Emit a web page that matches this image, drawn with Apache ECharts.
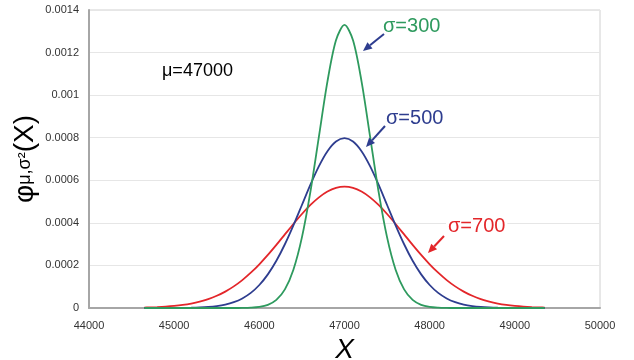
<!DOCTYPE html>
<html>
<head>
<meta charset="utf-8">
<script src="https://cdn.jsdelivr.net/npm/echarts@6/dist/echarts.min.js"></script>
<style>
	html, body { margin: 0; padding: 0; background: #fff; }
	#chart { width: 634px; height: 360px; }
</style>
</head>
<body>
<div id="chart"></div>
<script>
var xValues = [44650, 44700, 44800, 44900, 45000, 45100, 45200, 45300, 45400, 45500, 45600, 45700,
	45800, 45900, 46000, 46100, 46200, 46300, 46400, 46500, 46600, 46700, 46800, 46900, 47000,
	47100, 47200, 47300, 47400, 47500, 47600, 47700, 47800, 47900, 48000, 48100, 48200, 48300,
	48400, 48500, 48600, 48700, 48800, 48900, 49000, 49100, 49200, 49300, 49350];

var sigma300 = [0, 0, 0, 0, 0, 0, 0, 0, 0, 0, 0, 0,
	0.0000004, 0.0000016, 0.0000051, 0.0000148, 0.0000380, 0.0000874, 0.0001800, 0.0003316, 0.0005467, 0.0008066, 0.0010648, 0.0012579, 0.0013298,
	0.0012579, 0.0010648, 0.0008066, 0.0005467, 0.0003316, 0.0001800, 0.0000874, 0.0000380, 0.0000148, 0.0000051, 0.0000016, 0.0000004,
	0, 0, 0, 0, 0, 0, 0, 0, 0, 0, 0, 0];

var sigma500 = [0, 0, 0, 0.0000001, 0.0000003, 0.0000006, 0.0000012, 0.0000025, 0.0000048, 0.0000089, 0.0000158, 0.0000272,
	0.0000448, 0.0000709, 0.0001080, 0.0001579, 0.0002218, 0.0002995, 0.0003884, 0.0004839, 0.0005794, 0.0006664, 0.0007365, 0.0007821, 0.0007979,
	0.0007821, 0.0007365, 0.0006664, 0.0005794, 0.0004839, 0.0003884, 0.0002995, 0.0002218, 0.0001579, 0.0001080, 0.0000709, 0.0000448,
	0.0000272, 0.0000158, 0.0000089, 0.0000048, 0.0000025, 0.0000012, 0.0000006, 0.0000003, 0.0000001, 0, 0, 0];

var sigma700 = [0.0000020, 0.0000026, 0.0000041, 0.0000063, 0.0000096, 0.0000143, 0.0000209, 0.0000299, 0.0000418, 0.0000574, 0.0000771, 0.0001016,
	0.0001311, 0.0001658, 0.0002054, 0.0002494, 0.0002966, 0.0003457, 0.0003947, 0.0004416, 0.0004841, 0.0005199, 0.0005471, 0.0005641, 0.0005699,
	0.0005641, 0.0005471, 0.0005199, 0.0004841, 0.0004416, 0.0003947, 0.0003457, 0.0002966, 0.0002494, 0.0002054, 0.0001658, 0.0001311,
	0.0001016, 0.0000771, 0.0000574, 0.0000418, 0.0000299, 0.0000209, 0.0000143, 0.0000096, 0.0000063, 0.0000041, 0.0000026, 0.0000020];

var seriesNames = ['σ=300', 'σ=500', 'σ=700'];
var seriesColors = ['#2e9a5e', '#2e3d8f', '#e3262a'];

function pairs(ys) {
	var out = [];
	for (var i = 0; i < xValues.length; i++) {
		out.push([xValues[i], ys[i]]);
	}
	return out;
}

function arrow(x1, y1, x2, y2, color) {
	var ang = Math.atan2(y2 - y1, x2 - x1);
	var len = 9, wid = 4;
	var bx = x2 - len * Math.cos(ang), by = y2 - len * Math.sin(ang);
	var px = -Math.sin(ang) * wid, py = Math.cos(ang) * wid;
	return [
		{ type: 'line', z: 100, shape: { x1: x1, y1: y1, x2: bx, y2: by }, style: { stroke: color, lineWidth: 2 } },
		{ type: 'polygon', z: 100, shape: { points: [[x2, y2], [bx + px, by + py], [bx - px, by - py]] }, style: { fill: color } }
	];
}

var chart = echarts.init(document.getElementById('chart'));
var data = [sigma300, sigma500, sigma700];
var series = [];
for (var s = 0; s < data.length; s++) {
	series.push({
		name: seriesNames[s],
		type: 'line',
		smooth: 0.3,
		symbol: 'none',
		data: pairs(data[s]),
		lineStyle: { color: seriesColors[s], width: 1.8 },
		z: 3 - s
	});
}

var graphics = [
	{ type: 'text', z: 100, left: 162, top: 62, style: { text: 'μ=47000', font: '18px "Liberation Sans", Arial', fill: '#000' } },
	{ type: 'text', z: 100, left: 383, top: 16, style: { text: 'σ=300', font: '20px "Liberation Sans", Arial', fill: seriesColors[0] } },
	{ type: 'text', z: 100, left: 386, top: 108, style: { text: 'σ=500', font: '20px "Liberation Sans", Arial', fill: seriesColors[1] } },
	{ type: 'text', z: 100, left: 446, top: 215, style: {
		text: 'σ=700', font: '20px "Liberation Sans", Arial', fill: seriesColors[2],
		backgroundColor: '#fff', padding: [1, 2]
	} }
];
graphics = graphics.concat(arrow(384, 34, 363, 51, seriesColors[1]));
graphics = graphics.concat(arrow(385, 126, 366, 147, seriesColors[1]));
graphics = graphics.concat(arrow(444, 236, 428, 253, seriesColors[2]));

chart.setOption({
	animation: false,
	grid: {
		left: 89, right: 34, top: 10, bottom: 52,
		outerBoundsMode: 'none',
		show: true, borderColor: '#d0d0d0', borderWidth: 1
	},
	xAxis: {
		type: 'value',
		min: 44000,
		max: 50000,
		interval: 1000,
		name: 'X',
		nameLocation: 'middle',
		nameGap: 23,
		nameTextStyle: { fontSize: 28, fontStyle: 'italic', fontFamily: 'Liberation Sans', color: '#000' },
		axisLine: { lineStyle: { color: '#a6a6a6', width: 2 } },
		axisTick: { show: false },
		splitLine: { show: false },
		axisLabel: {
			color: '#333', fontSize: 11, fontFamily: 'Liberation Sans', margin: 12,
			formatter: function(v) { return String(v); }
		}
	},
	yAxis: {
		type: 'value',
		min: 0,
		max: 0.0014,
		interval: 0.0002,
		name: '{a|φ}{b|μ,σ²}{a|(X)}',
		nameLocation: 'middle',
		nameGap: 50,
		nameMoveOverlap: false,
		nameTextStyle: {
			color: '#000',
			rich: {
				a: { fontSize: 28, fontFamily: 'Liberation Sans', color: '#000' },
				b: { fontSize: 18, fontFamily: 'Liberation Sans', color: '#000' }
			}
		},
		axisLine: { show: true, lineStyle: { color: '#a6a6a6', width: 2 } },
		axisTick: { show: false },
		splitLine: { lineStyle: { color: '#e6e6e6' } },
		axisLabel: {
			color: '#333',
			fontSize: 11,
			fontFamily: 'Liberation Sans',
			margin: 10,
			formatter: function(v) { return String(parseFloat(v.toFixed(4))); }
		}
	},
	graphic: graphics,
	series: series
});
</script>
</body>
</html>
